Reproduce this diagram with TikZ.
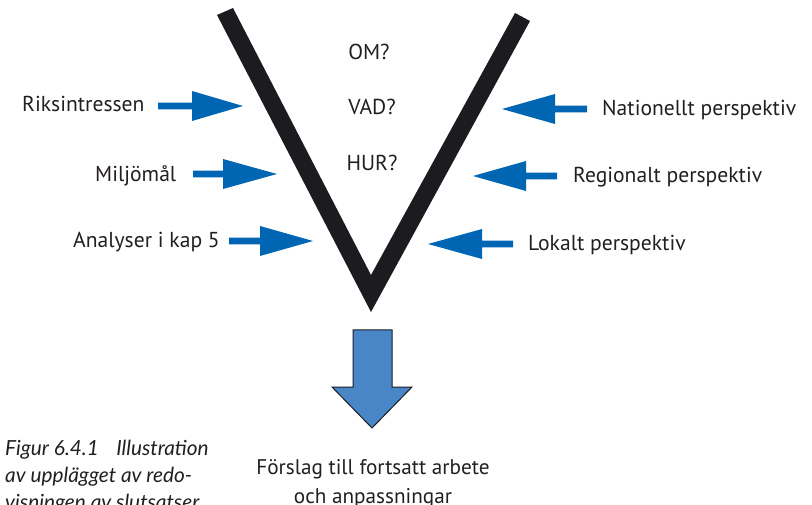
\documentclass[tikz,border=0pt]{standalone}
\usepackage{fontspec}
\setmainfont{PT Sans}
\newfontfamily\capfont{Lato}
\definecolor{arrblue}{RGB}{0,102,179}
\definecolor{bigblue}{RGB}{72,134,200}
\definecolor{txt}{RGB}{35,31,32}
\definecolor{vblack}{RGB}{28,28,32}
\newcommand{\leftarrowat}[4]{% tip x, y, head base x, shaft end x
  \fill[arrblue] (#1,#2) -- (#3,#2-15) -- (#3,#2-3.4) -- (#4,#2-3.4) -- (#4,#2+3.4) -- (#3,#2+3.4) -- (#3,#2+15) -- cycle;}
\begin{document}
\begin{tikzpicture}[x=1pt,y=-1pt,
  lbl/.style={text=txt,font=\fontsize{21.6}{26}\selectfont,inner sep=0pt},
  captext/.style={text=txt,font=\capfont\itshape\fontsize{20.8}{27}\selectfont,inner sep=0pt,anchor=west}]
\useasboundingbox (0,0) rectangle (812,505);
\clip (0,0) rectangle (812,505);
\fill[white] (0,0) rectangle (812,505);
% V
\fill[vblack] (217,15) -- (371,312) -- (530,21) -- (515,13) -- (371,275) -- (233,8) -- cycle;
% questions
\node[lbl] (om) at (369,52) {OM?};
\node[lbl] (vad) at (372,107) {VAD?};
\node[lbl] (hur) at (372,163) {HUR?};
% left labels
\node[lbl,anchor=west] (riks) at (22,104) {Riksintressen};
\node[lbl,anchor=west] (milj) at (95,176) {Miljömål};
\node[lbl,anchor=west] (anal) at (73,242) {Analyser i kap 5};
% right labels
\node[lbl,anchor=west] (nat) at (602,110) {Nationellt perspektiv};
\node[lbl,anchor=west] (reg) at (573,177) {Regionalt perspektiv};
\node[lbl,anchor=west] (lok) at (528,245) {Lokalt perspektiv};
% blue arrows (pointing right)
\leftarrowat{243}{106}{192}{158}
\leftarrowat{277}{174}{223}{193}
\leftarrowat{313}{241}{260}{229}
% blue arrows (pointing left)
\leftarrowat{502}{109}{555}{587}
\leftarrowat{473}{176}{526}{557}
\leftarrowat{428}{244}{482}{513}
% big down arrow
\draw[fill=bigblue,draw=vblack,line width=1pt] (353,330) -- (392,330) -- (392,387) -- (412,387) -- (372,428) -- (332,387) -- (353,387) -- cycle;
\node[lbl,align=center,anchor=north,font=\fontsize{21.2}{29}\selectfont] (forslag) at (373,459) {Förslag till fortsatt arbete\\och anpassningar};
% caption
\node[captext] (c1) at (5,450) {Figur 6.4.1\hspace{0.6em} Illustration};
\node[captext] (c2) at (5,477) {av upplägget av redo-};
\node[captext] (c3) at (5,504) {visningen av slutsatser};
\end{tikzpicture}
\end{document}
